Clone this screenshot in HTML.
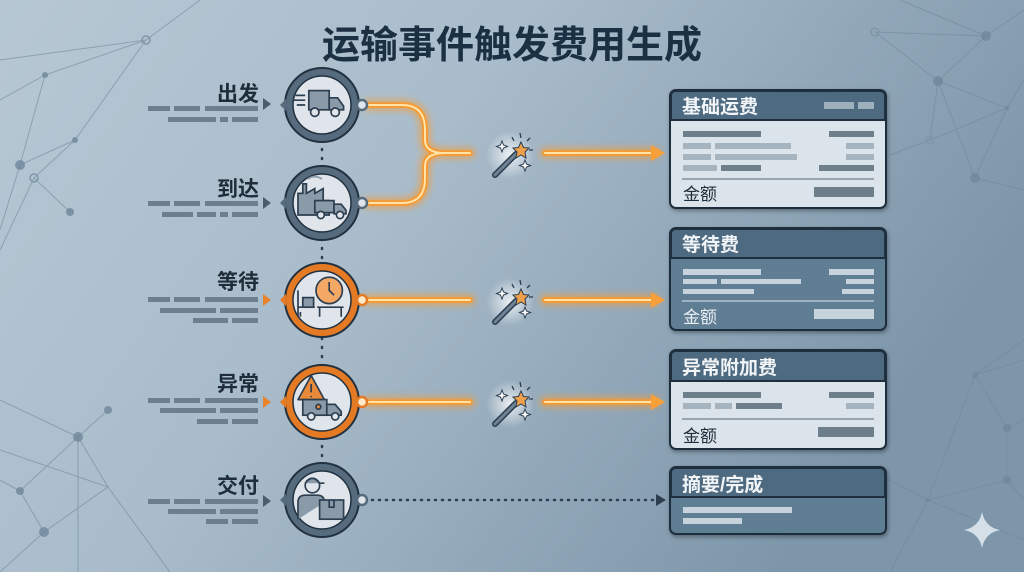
<!DOCTYPE html>
<html><head><meta charset="utf-8"><style>
html,body{margin:0;padding:0;width:1024px;height:572px;overflow:hidden}
text{font-family:"Liberation Sans","Noto Sans CJK SC",sans-serif}
</style></head><body>
<svg width="1024" height="572" viewBox="0 0 1024 572" xmlns="http://www.w3.org/2000/svg">
<defs>
<linearGradient id="bg" x1="0" y1="0" x2="1" y2="0.4">
<stop offset="0" stop-color="#b7c8d4"/><stop offset="0.45" stop-color="#a9bccb"/><stop offset="1" stop-color="#7d96a9"/>
</linearGradient>
<filter id="glow" x="-20%" y="-50%" width="140%" height="200%"><feGaussianBlur stdDeviation="3.5"/></filter>
<filter id="sh" x="-10%" y="-10%" width="130%" height="130%"><feDropShadow dx="1" dy="2" stdDeviation="2" flood-opacity="0.35"/></filter>
<radialGradient id="wg"><stop offset="0" stop-color="#ffffff" stop-opacity="0.8"/><stop offset="1" stop-color="#ffffff" stop-opacity="0"/></radialGradient>
<g id="nd">
<circle cx="0" cy="0" r="37" fill="#566c7e" stroke="#223140" stroke-width="2"/>
<circle cx="0" cy="0" r="29" fill="#dfe5ea" stroke="#223140" stroke-width="1.5"/>
<path d="M-36 -6 L-42 0 L-36 6Z" fill="#566c7e"/>
</g>
<g id="w">
<circle cx="510" cy="155" r="24" fill="url(#wg)"/>
<line x1="495" y1="175" x2="516" y2="154" stroke="#2c3e50" stroke-width="6" stroke-linecap="round"/>
<line x1="495" y1="175" x2="516" y2="154" stroke="#6f8394" stroke-width="3" stroke-linecap="round"/>
<path d="M521 142 L523.5 147.5 L529 148 L525 152 L526 158 L521 155 L516 158 L517 152 L513 148 L518.5 147.5Z" fill="#f0a04a" stroke="#2c3e50" stroke-width="1"/>
<path d="M502 141 l1.5 4 4 1.5 -4 1.5 -1.5 4 -1.5 -4 -4 -1.5 4 -1.5Z M525 160 l1.5 4 4 1.5 -4 1.5 -1.5 4 -1.5 -4 -4 -1.5 4 -1.5Z" fill="#fff" stroke="#2c3e50" stroke-width="1"/>
<g stroke="#2c3e50" stroke-width="1.3"><line x1="520" y1="133" x2="521" y2="138"/><line x1="530" y1="138" x2="527" y2="141"/><line x1="533" y1="150" x2="529" y2="150"/><line x1="512" y1="137" x2="514" y2="141"/></g>
</g>
</defs>
<rect width="1024" height="572" fill="url(#bg)"/>
<!-- network lines -->
<g stroke="#6f889b" stroke-width="1" fill="none" opacity="0.6">
<path d="M0 60 L146 40 L200 0 M146 40 L45 75 L20 165 L75 140 L34 178 L70 212 M45 75 L0 100 M75 140 L146 40 M20 165 L0 230 M34 178 L0 250"/>
<path d="M0 400 L78 437 L108 410 M78 437 L20 491 L44 532 L108 487 L78 437 M0 450 L108 487 L170 572 M44 532 L0 572 M20 491 L0 480 M78 437 L78 572"/>
<path d="M875 32 L986 36 L938 81 L875 32 M986 36 L1024 10 M938 81 L1007 108 L975 178 L938 81 M1007 108 L1024 80 M975 178 L1024 190 M938 81 L930 140 L890 155 M1007 108 L930 140 M900 0 L986 36"/>
<path d="M975 375 L1024 360 M975 375 L1007 428 L1024 420 M975 375 L928 500 L890 572 M928 500 L1007 480 L1024 500 M1007 428 L1007 480 M928 500 L870 470 M928 500 L1024 540 M1024 340 L975 375"/>
</g>
<g fill="#6f889b" opacity="0.8">
<circle cx="45" cy="75" r="3"/><circle cx="20" cy="165" r="5"/><circle cx="75" cy="140" r="3"/><circle cx="70" cy="212" r="4"/>
<circle cx="78" cy="437" r="5"/><circle cx="108" cy="410" r="4"/><circle cx="20" cy="491" r="4"/><circle cx="44" cy="532" r="5"/>
<circle cx="986" cy="36" r="5"/><circle cx="938" cy="81" r="5"/><circle cx="975" cy="178" r="5"/><circle cx="1007" cy="108" r="2"/>
<circle cx="975" cy="375" r="3"/><circle cx="1007" cy="428" r="4"/><circle cx="1007" cy="480" r="4"/><circle cx="928" cy="500" r="2"/>
</g>
<g fill="none" stroke="#7f97a9" stroke-width="1.5"><circle cx="146" cy="40" r="4"/><circle cx="34" cy="178" r="4"/><circle cx="875" cy="32" r="4"/><circle cx="930" cy="140" r="4"/></g>
<path d="M982 512 Q985 527 1000 530 Q985 533 982 548 Q979 533 964 530 Q979 527 982 512Z" fill="#dfe7ee" opacity="0.9"/>

<text x="512" y="58" text-anchor="middle" font-size="38" font-weight="bold" fill="#1c3043">运输事件触发费用生成</text>

<line x1="322" y1="140" x2="322" y2="468" stroke="#2c3e50" stroke-width="2.5" stroke-dasharray="1 8" stroke-linecap="round"/>

<g font-size="21" font-weight="bold" fill="#1f2d3a" text-anchor="end">
<text x="259" y="101">出发</text><text x="259" y="196">到达</text><text x="259" y="289">等待</text><text x="259" y="391">异常</text><text x="259" y="493">交付</text>
</g>
<g fill="#6b7f8f">
<rect x="148" y="106" width="22" height="5"/><rect x="174" y="106" width="26" height="5"/><rect x="205" y="106" width="53" height="5"/>
<rect x="168" y="117" width="48" height="5"/><rect x="220" y="117" width="8" height="5"/><rect x="232" y="117" width="26" height="5"/>
<rect x="148" y="201" width="22" height="5"/><rect x="174" y="201" width="26" height="5"/><rect x="205" y="201" width="53" height="5"/>
<rect x="162" y="212" width="31" height="5"/><rect x="197" y="212" width="19" height="5"/><rect x="220" y="212" width="8" height="5"/><rect x="232" y="212" width="26" height="5"/>
<rect x="148" y="297" width="22" height="5"/><rect x="174" y="297" width="26" height="5"/><rect x="205" y="297" width="53" height="5"/>
<rect x="160" y="308" width="56" height="5"/><rect x="220" y="308" width="38" height="5"/><rect x="193" y="318" width="35" height="5"/><rect x="232" y="318" width="26" height="5"/>
<rect x="148" y="398" width="22" height="5"/><rect x="174" y="398" width="26" height="5"/><rect x="205" y="398" width="53" height="5"/>
<rect x="160" y="408" width="56" height="5"/><rect x="220" y="408" width="38" height="5"/><rect x="197" y="419" width="31" height="5"/><rect x="232" y="419" width="26" height="5"/>
<rect x="148" y="499" width="22" height="5"/><rect x="174" y="499" width="26" height="5"/><rect x="205" y="499" width="53" height="5"/>
<rect x="168" y="509" width="48" height="5"/><rect x="220" y="509" width="38" height="5"/><rect x="206" y="519" width="22" height="5"/><rect x="232" y="519" width="26" height="5"/>
</g>
<g fill="#4a5d6d"><path d="M263 98 L271 104 L263 110Z"/><path d="M263 197 L271 203 L263 209Z"/><path d="M263 495 L271 501 L263 507Z"/></g>
<g fill="#e9832a"><path d="M263 294 L271 300 L263 306Z"/><path d="M263 396 L271 402 L263 408Z"/></g>

<g fill="none" stroke-linecap="round">
<g stroke="#ff9a2a" stroke-width="11" opacity="0.6" filter="url(#glow)">
<path d="M368 105 H402 Q425 105 425 130 V140 Q425 153 445 153 H470 M368 203 H402 Q425 203 425 178 V166 Q425 153 445 153"/>
<path d="M545 153 H655"/><path d="M368 300 H470"/><path d="M545 300 H655"/><path d="M368 402 H470"/><path d="M545 402 H655"/>
</g>
<g stroke="#f59a30" stroke-width="5.5">
<path d="M368 105 H402 Q425 105 425 130 V140 Q425 153 445 153 H470 M368 203 H402 Q425 203 425 178 V166 Q425 153 445 153"/>
<path d="M545 153 H655"/><path d="M368 300 H470"/><path d="M545 300 H655"/><path d="M368 402 H470"/><path d="M545 402 H655"/>
</g>
<g stroke="#ffe3a8" stroke-width="2">
<path d="M368 105 H402 Q425 105 425 130 V140 Q425 153 445 153 H470 M368 203 H402 Q425 203 425 178 V166 Q425 153 445 153"/>
<path d="M545 153 H655"/><path d="M368 300 H470"/><path d="M545 300 H655"/><path d="M368 402 H470"/><path d="M545 402 H655"/>
</g>
</g>
<g fill="#f7a03a"><path d="M651 145 L665 153 L651 161Z"/><path d="M651 292 L665 300 L651 308Z"/><path d="M651 394 L665 402 L651 410Z"/></g>
<line x1="372" y1="500" x2="656" y2="500" stroke="#2c3e50" stroke-width="2.5" stroke-dasharray="1 6" stroke-linecap="round"/>
<path d="M656 494 L666 500 L656 506Z" fill="#2c3e50"/>

<use href="#w"/><use href="#w" y="147"/><use href="#w" y="249"/>

<g transform="translate(322,105)"><use href="#nd"/></g>
<g transform="translate(322,203)"><use href="#nd"/></g>
<g transform="translate(322,500)"><use href="#nd"/></g>
<g transform="translate(322,300)"><circle r="37" fill="#e47a24" stroke="#223140" stroke-width="2"/><circle r="29" fill="#dfe5ea" stroke="#223140" stroke-width="1.5"/><path d="M-36 -6 L-42 0 L-36 6Z" fill="#e47a24"/></g>
<g transform="translate(322,402)"><circle r="37" fill="#e47a24" stroke="#223140" stroke-width="2"/><circle r="29" fill="#dfe5ea" stroke="#223140" stroke-width="1.5"/><path d="M-36 -6 L-42 0 L-36 6Z" fill="#e47a24"/></g>
<g stroke-width="2.5">
<circle cx="362" cy="105" r="5" fill="#dfe5ea" stroke="#566c7e"/><circle cx="362" cy="203" r="5" fill="#dfe5ea" stroke="#566c7e"/><circle cx="362" cy="500" r="5" fill="#dfe5ea" stroke="#566c7e"/>
<circle cx="362" cy="300" r="5" fill="#ffe9c8" stroke="#e47a24"/><circle cx="362" cy="402" r="5" fill="#ffe9c8" stroke="#e47a24"/>
</g>
<g stroke="#2c3e50" stroke-width="1.4">
<g transform="translate(322,105) scale(1.2)"><rect x="-11" y="-12" width="17" height="16" fill="#8a9aa8"/><path d="M6 -6 H13 L18 1 V4 H6Z" fill="#8a9aa8"/><circle cx="-6" cy="6" r="3.5" fill="#dfe5ea"/><circle cx="11" cy="6" r="3.5" fill="#dfe5ea"/><path d="M-22 -8 H-14 M-24 -4 H-14 M-21 0 H-14" fill="none"/></g>
<g transform="translate(322,203) scale(1.2)"><path d="M-20 10 V-8 L-16 -8 V-16 H-13 V-8 L-6 -12 V-8 L1 -12 V-2 H6 V10Z" fill="#8a9aa8"/><rect x="-6" y="-2" width="16" height="10" fill="#8a9aa8"/><path d="M10 1 H16 L20 6 V9 H10Z" fill="#8a9aa8"/><circle cx="-1" cy="10" r="3" fill="#dfe5ea"/><circle cx="15" cy="10" r="3" fill="#dfe5ea"/><path d="M-12 -20 Q-6 -24 0 -20" fill="none" stroke="#8a9aa8"/></g>
<g transform="translate(322,300) scale(1.2)"><circle cx="6" cy="-8" r="11" fill="#f3a866"/><path d="M6 -15 V-8 L10 -4" fill="none"/><path d="M-20 -8 V14 M-20 6 H-6 M-16 0 H-8 V6 M-4 6 H18 M-2 6 V14 M16 6 V14 M-18 14 V10" fill="none"/><rect x="-16" y="-2" width="9" height="8" fill="#8a9aa8"/></g>
<g transform="translate(322,402) scale(1.2)"><path d="M-9 -22 L2 -2 H-20Z" fill="#e98a3a" stroke-linejoin="round"/><path d="M-9 -15 V-8 M-9 -5 V-4"/><rect x="-16" y="-2" width="20" height="13" fill="#8a9aa8"/><path d="M4 2 H11 L16 8 V11 H4Z" fill="#8a9aa8"/><circle cx="-9" cy="12" r="3" fill="#dfe5ea"/><circle cx="11" cy="12" r="3" fill="#dfe5ea"/><circle cx="-3" cy="4" r="2" fill="#e98a3a"/></g>
<g transform="translate(322,500) scale(1.2)"><circle cx="-8" cy="-12" r="6" fill="#dfe5ea"/><path d="M-14 -14 Q-8 -22 -2 -14 H2" fill="#8a9aa8"/><path d="M-20 16 V2 Q-20 -4 -14 -4 H-4 Q2 -4 2 2" fill="#8a9aa8"/><rect x="-2" y="0" width="20" height="16" fill="#8a9aa8"/><path d="M6 0 V6 H10 V0" fill="none"/></g>
</g>

<g filter="url(#sh)">
<rect x="670" y="90" width="216" height="118" rx="6" fill="#dbe4eb" stroke="#1f2f3e" stroke-width="2"/>
<rect x="670" y="228" width="216" height="102" rx="6" fill="#617e93" stroke="#1f2f3e" stroke-width="2"/>
<rect x="670" y="350" width="216" height="99" rx="6" fill="#dbe4eb" stroke="#1f2f3e" stroke-width="2"/>
<rect x="670" y="467" width="216" height="67" rx="6" fill="#617e93" stroke="#1f2f3e" stroke-width="2"/>
</g>
<g fill="#4e6a80" stroke="#1f2f3e" stroke-width="2">
<path d="M671 120 V96 Q671 91 676 91 H880 Q885 91 885 96 V120Z"/>
<path d="M671 258 V234 Q671 229 676 229 H880 Q885 229 885 234 V258Z"/>
<path d="M671 381 V356 Q671 351 676 351 H880 Q885 351 885 356 V381Z"/>
<path d="M671 497 V473 Q671 468 676 468 H880 Q885 468 885 473 V497Z"/>
</g>
<g font-size="19" font-weight="bold" fill="#f2f5f8">
<text x="682" y="113">基础运费</text><text x="682" y="251">等待费</text><text x="682" y="374">异常附加费</text><text x="682" y="491">摘要/完成</text>
</g>
<g font-size="17" fill="#1f2d3a"><text x="683" y="200">金额</text><text x="683" y="442">金额</text></g>
<g font-size="17" fill="#e8eef3"><text x="683" y="323">金额</text></g>
<g fill="#9fb0bd"><rect x="824" y="102" width="30" height="7"/><rect x="858" y="102" width="16" height="7"/></g>
<g fill="#6e7f8c"><rect x="683" y="131" width="78" height="6"/><rect x="829" y="131" width="45" height="6"/><rect x="721" y="165" width="40" height="6"/><rect x="819" y="165" width="55" height="6"/><rect x="814" y="187" width="60" height="10"/></g>
<g fill="#a6b4bf"><rect x="683" y="143" width="28" height="6"/><rect x="715" y="143" width="76" height="6"/><rect x="846" y="143" width="28" height="6"/><rect x="683" y="154" width="28" height="6"/><rect x="715" y="154" width="82" height="6"/><rect x="846" y="154" width="28" height="6"/><rect x="683" y="165" width="34" height="6"/></g>
<line x1="682" y1="179" x2="874" y2="179" stroke="#6e7f8c" stroke-width="1.2"/>
<g fill="#c6d3dd"><rect x="683" y="269" width="78" height="6"/><rect x="829" y="269" width="45" height="6"/><rect x="683" y="279" width="34" height="5"/><rect x="721" y="279" width="80" height="5"/><rect x="846" y="279" width="28" height="5"/><rect x="683" y="289" width="71" height="5"/><rect x="842" y="289" width="32" height="5"/><rect x="814" y="309" width="60" height="10"/></g>
<line x1="682" y1="301" x2="874" y2="301" stroke="#c6d3dd" stroke-width="1.2"/>
<g fill="#6e7f8c"><rect x="683" y="392" width="78" height="6"/><rect x="829" y="392" width="45" height="6"/><rect x="736" y="403" width="46" height="6"/><rect x="818" y="427" width="56" height="10"/></g>
<g fill="#a6b4bf"><rect x="683" y="403" width="28" height="6"/><rect x="715" y="403" width="17" height="6"/><rect x="846" y="403" width="28" height="6"/></g>
<line x1="682" y1="419" x2="874" y2="419" stroke="#6e7f8c" stroke-width="1.2"/>
<g fill="#c6d3dd"><rect x="683" y="507" width="109" height="6"/><rect x="683" y="518" width="59" height="6"/></g>
</svg>
</body></html>
